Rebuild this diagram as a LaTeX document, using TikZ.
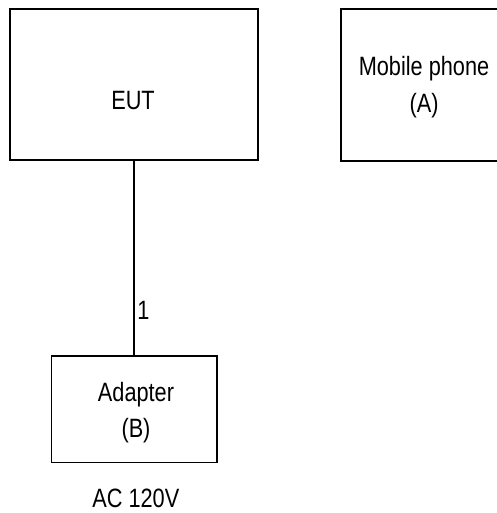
\documentclass[tikz,border=0pt]{standalone}
\usepackage{fontspec}
\setmainfont{Liberation Sans}[FakeStretch=0.82]
\begin{document}
\begin{tikzpicture}[x=1pt,y=-1pt,
  box/.style={draw=black,line width=1.9pt,minimum width=#1,inner sep=0pt},
  txt/.style={anchor=base,inner sep=0pt,font=\fontsize{26.5}{36}\selectfont},
  wire/.style={line width=1.9pt}]
\useasboundingbox (0,0) rectangle (496,513);
% boxes
\node[box=248.3pt,minimum height=151.2pt] (eut) at (133.85,84.4) {};
\node[box=157pt,minimum height=152pt] (mob) at (419.5,85) {};
\node[box=165.2pt,minimum height=106.7pt] (ada) at (134.1,409.15) {};
% texts
\node[txt] (eutT) at (133,109.3) {EUT};
\node[txt] (mobT1) at (424,75.7) {Mobile phone};
\node[txt] (mobT2) at (424,112.7) {(A)};
\node[txt] (adaT1) at (136,401.7) {Adapter};
\node[txt] (adaT2) at (136,437.7) {(B)};
\node[txt,text depth=0pt] (ac) at (135.8,507) {AC 120V};
% connector
\coordinate (top) at (134,160);
\coordinate (bot) at (134,355.8);
\draw[wire] (top) -- node[txt,pos=0.8,anchor=base west,xshift=2.5pt,yshift=-2.7pt] (n1) {1} (bot);
\end{tikzpicture}
\end{document}
